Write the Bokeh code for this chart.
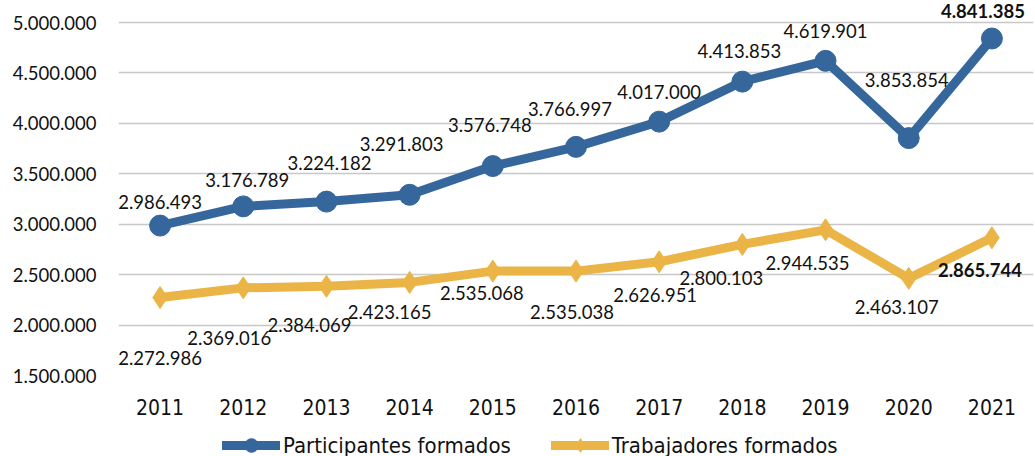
from bokeh.plotting import figure
from bokeh.layouts import column
from bokeh.models import ColumnDataSource, Legend, LegendItem, FixedTicker, CustomJSTickFormatter, Range1d
from bokeh.core.properties import value
from bokeh.embed import file_html
from bokeh.resources import INLINE

years = ["2011", "2012", "2013", "2014", "2015", "2016", "2017", "2018", "2019", "2020", "2021"]
participantes = [2986493, 3176789, 3224182, 3291803, 3576748, 3766997, 4017000, 4413853, 4619901, 3853854, 4841385]
trabajadores = [2272986, 2369016, 2384069, 2423165, 2535068, 2535038, 2626951, 2800103, 2944535, 2463107, 2865744]
y_ticks = [1500000, 2000000, 2500000, 3000000, 3500000, 4000000, 4500000, 5000000]
series_names = ["Participantes formados", "Trabajadores formados"]

# label placement (screen px relative to each point) and weight
p_dx = [0, 4, 3, -8, -3, -6, 0, -3, 0, -2, -9]
p_dy = [-24, -26, -39, -51, -41, -38, -30, -31, -30, -58, -28]
t_dx = [0, -14, -17, -20, -11, -4, -4, -21, -18, -12, -12]
t_dy = [60, 50, 39, 30, 22, 41, 33, 34, 33, 29, 32]
p_style = ["normal"] * 10 + ["bold"]
t_style = ["normal"] * 10 + ["bold"]

def fmt(v):
    return f"{v:,}".replace(",", ".")

BLUE = "#35679C"
GOLD = "#EAB546"
TXT = "#111111"
LABEL_FONT = "Lato"
COND_FONT = "DejaVu Sans Condensed"

p = figure(x_range=years, y_range=Range1d(1500000, 5218250),
           width=1035, height=422, output_backend="svg", toolbar_location=None,
           min_border_left=118, min_border_right=2, min_border_top=0, min_border_bottom=47)
p.outline_line_color = None

p.xgrid.grid_line_color = None
p.ygrid.grid_line_color = "#C8C8C8"
p.ygrid.grid_line_width = 1.5
p.yaxis.ticker = FixedTicker(ticks=y_ticks)
p.yaxis.formatter = CustomJSTickFormatter(code="return tick.toLocaleString('de-DE');")
p.yaxis.axis_line_color = None
p.yaxis.major_tick_line_color = None
p.yaxis.minor_tick_line_color = None
p.yaxis.major_tick_out = 0
p.yaxis.major_label_text_font = LABEL_FONT
p.yaxis.major_label_text_font_size = "18.5px"
p.yaxis.major_label_text_color = TXT
p.yaxis.major_label_standoff = 22

p.xaxis.axis_line_color = None
p.xaxis.major_tick_line_color = None
p.xaxis.major_tick_out = 0
p.xaxis.major_label_text_font = COND_FONT
p.xaxis.major_label_text_font_size = "21px"
p.xaxis.major_label_text_color = TXT
p.xaxis.major_label_standoff = 23

src_p = ColumnDataSource(dict(x=years, y=participantes, t=[fmt(v) for v in participantes],
                              dx=p_dx, dy=p_dy, fs=p_style))
src_t = ColumnDataSource(dict(x=years, y=trabajadores, t=[fmt(v) for v in trabajadores],
                              dx=t_dx, dy=t_dy, fs=t_style))

p.line("x", "y", source=src_p, line_color=BLUE, line_width=9, line_join="round")
p.scatter("x", "y", source=src_p, marker="circle", size=21, fill_color=BLUE, line_color=BLUE)
p.line("x", "y", source=src_t, line_color=GOLD, line_width=9, line_join="round")
p.scatter("x", "y", source=src_t, marker="diamond", size=22, fill_color=GOLD, line_color=GOLD)

for src in (src_p, src_t):
    p.text("x", "y", text="t", source=src, x_offset="dx", y_offset="dy",
           text_align="center", text_baseline="middle", text_font_style="fs",
           text_font=value(LABEL_FONT), text_font_size="18.5px", text_color=TXT)

# legend strip below the chart (its frame is aligned with the chart's frame)
lg = figure(width=1035, height=34, output_backend="svg", toolbar_location=None,
            x_axis_type=None, y_axis_type=None,
            x_range=Range1d(0, 1), y_range=Range1d(0, 1),
            min_border_left=118, min_border_right=2, min_border_top=0, min_border_bottom=0)
lg.grid.visible = False
lg.outline_line_color = None
r1 = lg.line([5, 6], [5, 6], line_color=BLUE, line_width=9, line_cap="round")
m1 = lg.scatter([5], [5], marker="circle", size=14, fill_color=BLUE, line_color=BLUE)
r2 = lg.line([5, 6], [5, 6], line_color=GOLD, line_width=9, line_cap="round")
m2 = lg.scatter([5], [5], marker="diamond", size=14, fill_color=GOLD, line_color=GOLD)
legend = Legend(items=[LegendItem(label=series_names[0], renderers=[r1, m1]),
                       LegendItem(label=series_names[1], renderers=[r2, m2])],
                orientation="horizontal", location=(104, -6),
                glyph_width=58, glyph_height=34, label_standoff=3, spacing=40,
                padding=0, margin=0, border_line_color=None, background_fill_alpha=0,
                label_text_font=COND_FONT, label_text_font_size="22px", label_text_color=TXT)
lg.add_layout(legend, "center")

layout = column(p, lg, spacing=0)
open("out.html", "w").write(file_html(layout, INLINE))
